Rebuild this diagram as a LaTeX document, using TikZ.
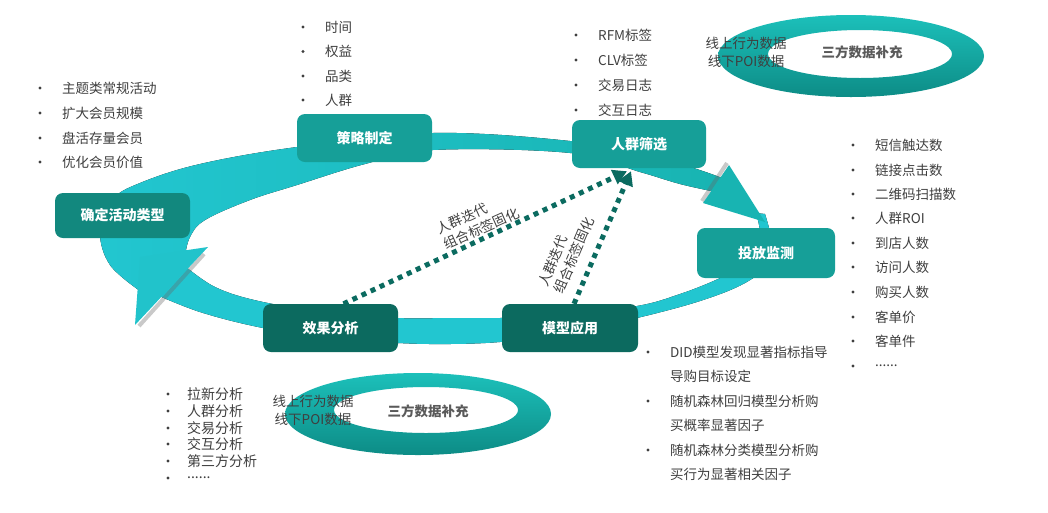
\documentclass[tikz,border=0pt]{standalone}
\usepackage{fontspec}
\setmainfont{Noto Sans CJK SC}
\usetikzlibrary{arrows.meta}
\definecolor{txt}{HTML}{3F3F3F}
\definecolor{ringtxt}{HTML}{5A5A5A}
\definecolor{ringT}{HTML}{1CC0BA}
\definecolor{ringB}{HTML}{0D8C86}
\definecolor{bandC}{HTML}{22C6D0}
\definecolor{bandT}{HTML}{1AA2A3}
\definecolor{triC}{HTML}{18B4B2}
\definecolor{nodeA}{HTML}{169F98}
\definecolor{nodeB}{HTML}{12887E}
\definecolor{nodeC}{HTML}{0C6A5F}
\definecolor{dotc}{HTML}{0B6B60}
\newcommand{\mydots}{.\kern0pt.\kern0pt.\kern0pt.\kern0pt.\kern0pt.}
\begin{document}
\begin{tikzpicture}[x=1pt,y=-1pt,
  box/.style={rounded corners=8pt, text=white, font=\bfseries\fontsize{14}{16}\selectfont, inner sep=0pt, minimum width=135pt, minimum height=48pt},
  item/.style={anchor=west, text=txt, font=\fontsize{13.5}{16}\selectfont, inner sep=0pt},
  dotarrow/.style={draw=dotc, line width=5pt, dash pattern=on 5pt off 5pt, -{Triangle[length=14pt,width=15pt]}},
  lbl/.style={text=txt, font=\fontsize{13.5}{17}\selectfont, align=left, inner sep=0pt},
  ringlbl/.style={text=ringtxt, font=\bfseries\fontsize{13.5}{16}\selectfont, inner sep=0pt},
  ringside/.style={text=txt, font=\fontsize{13.5}{18}\selectfont, align=center, inner sep=0pt},
  shadowline/.style={draw=black!60, opacity=.35, line width=4pt, line cap=butt},
  tri/.style={fill=triC}
]
\useasboundingbox (0,0) rectangle (1048,512);
\fill[white] (0,0) rectangle (1048,512);

% ---- third-party rings ----
\path[even odd rule, top color=ringT, bottom color=ringB]
  (851,56) ellipse [x radius=133pt, y radius=41pt]
  (860,54) ellipse [x radius=92pt, y radius=24pt];
\node[ringlbl] (r1) at (862,52) {三方数据补充};
\node[ringside] (r1s) at (746,52) {线上行为数据\\线下POI数据};

\path[even odd rule, top color=ringT, bottom color=ringB]
  (418,414) ellipse [x radius=133pt, y radius=41pt]
  (426,410) ellipse [x radius=92pt, y radius=23pt];
\node[ringlbl] (r2) at (428,411) {三方数据补充};
\node[ringside] (r2s) at (313,410) {线上行为数据\\线下POI数据};

% ---- bottom band ----
\fill[left color=bandC, middle color=bandT, right color=bandC]
  plot[smooth, tension=0.6] coordinates {(756,213) (760,240) (745,264) (718,279) (680,294) (637,306) (560,315) (500,318) (450,318) (398,318) (330,312) (263,302) (215,287) (180,262)}
  -- plot[smooth, tension=0.6] coordinates {(150,292) (200,312) (263,328) (330,338) (398,343) (450,344) (500,342) (560,335) (637,318) (700,301) (745,283) (770,262) (771,238) (765,214)}
  -- cycle;

% ---- top band ----
\fill[left color=bandC, middle color=bandT, right color=triC]
  plot[smooth, tension=0.6] coordinates {(140,291) (110,265) (100,232) (112,200) (140,183) (200,164) (297,147) (433,133) (570,141) (640,155) (690,167) (722,178)}
  -- plot[smooth, tension=0.6] coordinates {(716,192) (680,184) (640,172) (570,153) (433,150) (365,164) (297,185) (250,200) (205,220) (190,237) (185,256)}
  -- cycle;

% ---- arrow heads ----
\draw[shadowline] (727,163) -- (702,201);
\fill[tri] (729,165) -- (703,203) -- (765,222) -- cycle;
\draw[shadowline] (204,254) -- (139,326);
\fill[tri, fill=bandC!85!triC] (140,257) -- (208,247) -- (135,325) -- cycle;

% ---- process nodes ----
\node[box, fill=nodeB, minimum height=45pt] (qd) at (122.5,215.5) {确定活动类型};
\node[box, fill=nodeA] (cl) at (364.5,138) {策略制定};
\node[box, fill=nodeA, minimum width=134pt] (rq) at (639,144) {人群筛选};
\node[box, fill=nodeA, minimum width=138pt, minimum height=50pt] (tf) at (766,253) {投放监测};
\node[box, fill=nodeC, minimum width=136pt] (mx) at (570,328) {模型应用};
\node[box, fill=nodeC] (xg) at (330.5,328) {效果分析};

% ---- dotted feedback arrows ----
\draw[dotarrow] ([xshift=13pt]xg.north) -- ([xshift=-12pt,yshift=-3pt]rq.south);
\draw[dotarrow] ([xshift=4pt]mx.north) -- ([xshift=-8pt,yshift=-3pt]rq.south);
\node[lbl, rotate=24] (lb1) at (478,221) {人群迭代\\组合标签固化};
\node[lbl, rotate=67] (lb2) at (566,252) {人群迭代\\组合标签固化};

% ---- lists ----
\foreach \t/\yy [count=\i] in {时间/27, 权益/51.5, 品类/76, 人群/100} {
  \fill[txt] (303,\yy) circle (1.6pt);
  \node[item] (la\i) at (325,\yy) {\t};
}
\foreach \t/\yy [count=\i] in {RFM标签/35, CLV标签/60, 交易日志/85, 交互日志/110} {
  \fill[txt] (576,\yy) circle (1.6pt);
  \node[item] (lb\i) at (598,\yy) {\t};
}
\foreach \t/\yy [count=\i] in {主题类常规活动/88, 扩大会员规模/113, 盘活存量会员/138, 优化会员价值/162} {
  \fill[txt] (40,\yy) circle (1.6pt);
  \node[item] (lc\i) at (62,\yy) {\t};
}
\foreach \t/\yy [count=\i] in {短信触达数/145, 链接点击数/170, 二维码扫描数/194, 人群ROI/218, 到店人数/243, 访问人数/267, 购买人数/292, 客单价/317, 客单件/341, \mydots/366} {
  \fill[txt] (853,\yy) circle (1.6pt);
  \node[item] (ld\i) at (875,\yy) {\t};
}
\foreach \t/\yy [count=\i] in {拉新分析/394, 人群分析/411, 交易分析/428, 交互分析/444, 第三方分析/461, \mydots/478} {
  \fill[txt] (168,\yy) circle (1.6pt);
  \node[item, font=\fontsize{14}{16}\selectfont] (le\i) at (187,\yy) {\t};
}
\foreach \yy in {352, 401, 450} {
  \fill[txt] (648,\yy) circle (1.6pt);
}
\foreach \t/\yy [count=\i] in {DID模型发现显著指标指导/352, 导购目标设定/376, 随机森林回归模型分析购/401, 买概率显著因子/425, 随机森林分类模型分析购/450, 买行为显著相关因子/474} {
  \node[item] (lf\i) at (670,\yy) {\t};
}
\end{tikzpicture}
\end{document}
